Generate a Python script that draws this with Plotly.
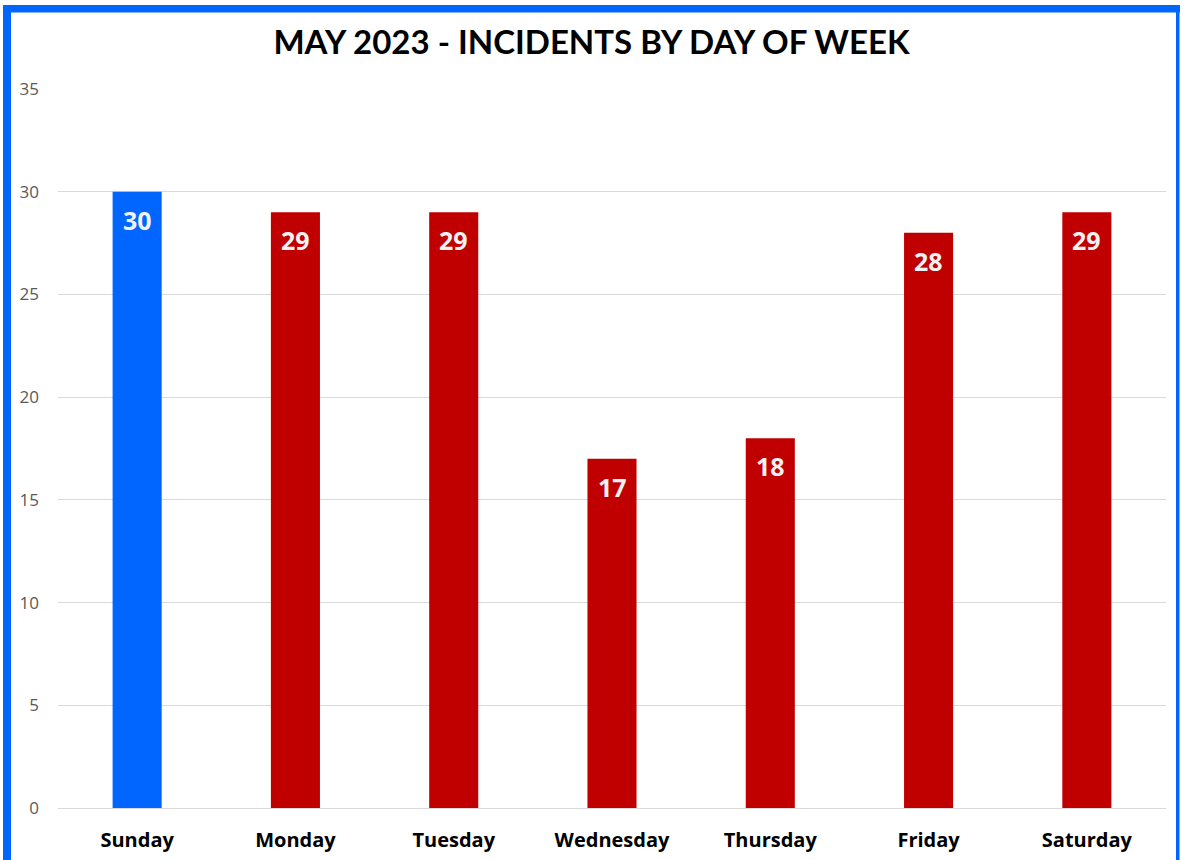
import plotly.graph_objects as go

days = ["Sunday", "Monday", "Tuesday", "Wednesday", "Thursday", "Friday", "Saturday"]
incidents = [30, 29, 29, 17, 18, 28, 29]
bar_colors = ["#0066FF", "#C00000", "#C00000", "#C00000", "#C00000", "#C00000", "#C00000"]
y_ticks = [0, 5, 10, 15, 20, 25, 30, 35]

W, H = 1183, 860
L, R, T, B = 58, 17, 89, 52
pw, ph = W - L - R, H - T - B


def px_x(v):
    return (v - L) / pw


def px_y(v):
    return (H - B - v) / ph


fig = go.Figure(
    go.Bar(
        x=days,
        y=incidents,
        marker=dict(color=bar_colors, line=dict(width=0)),
        cliponaxis=False,
        hoverinfo="skip",
    )
)

# Value labels sitting just inside the top of each bar
for day, val in zip(days, incidents):
    fig.add_annotation(
        x=day, y=val, text=str(val), showarrow=False,
        yanchor="middle", yshift=-28,
        font=dict(family="Open Sans", size=25, color="#F2F2F2", weight="bold"),
    )

fig.update_layout(
    width=W,
    height=H,
    margin=dict(l=L, r=R, t=T, b=B, autoexpand=False),
    paper_bgcolor="white",
    plot_bgcolor="white",
    showlegend=False,
    bargap=0.69,
    title=dict(
        text="MAY 2023 - INCIDENTS BY DAY OF WEEK",
        x=0.5,
        xanchor="center",
        y=1 - 42 / H,
        yanchor="middle",
        font=dict(family="Lato", size=33, color="#000000", weight="bold"),
    ),
)

fig.update_yaxes(
    range=[0, 35],
    tickvals=y_ticks,
    automargin=False,
    showgrid=True,
    gridcolor="#D9D9D9",
    gridwidth=1,
    zeroline=False,
    showline=False,
    ticks="",
    ticklabelstandoff=18,
    tickfont=dict(family="Open Sans", size=17, color="#595959"),
)

fig.update_xaxes(
    automargin=False,
    showgrid=False,
    showline=True,
    linecolor="#D9D9D9",
    linewidth=1,
    ticks="",
    ticklabelstandoff=14,
    tickfont=dict(family="Open Sans", size=20, color="#000000", weight="bold"),
)

# Blue frame around the chart
frame = "#0066FF"
fig.add_shape(type="rect", xref="paper", yref="paper", layer="above",
              x0=px_x(3), x1=px_x(11), y0=px_y(H + 5), y1=px_y(5),
              fillcolor=frame, line=dict(width=0))
fig.add_shape(type="rect", xref="paper", yref="paper", layer="above",
              x0=px_x(3), x1=px_x(1180), y0=px_y(12.5), y1=px_y(5),
              fillcolor=frame, line=dict(width=0))
fig.add_shape(type="rect", xref="paper", yref="paper", layer="above",
              x0=px_x(1176), x1=px_x(1179.5), y0=px_y(H + 5), y1=px_y(5),
              fillcolor=frame, line=dict(width=0))

fig.write_html("out.html")
